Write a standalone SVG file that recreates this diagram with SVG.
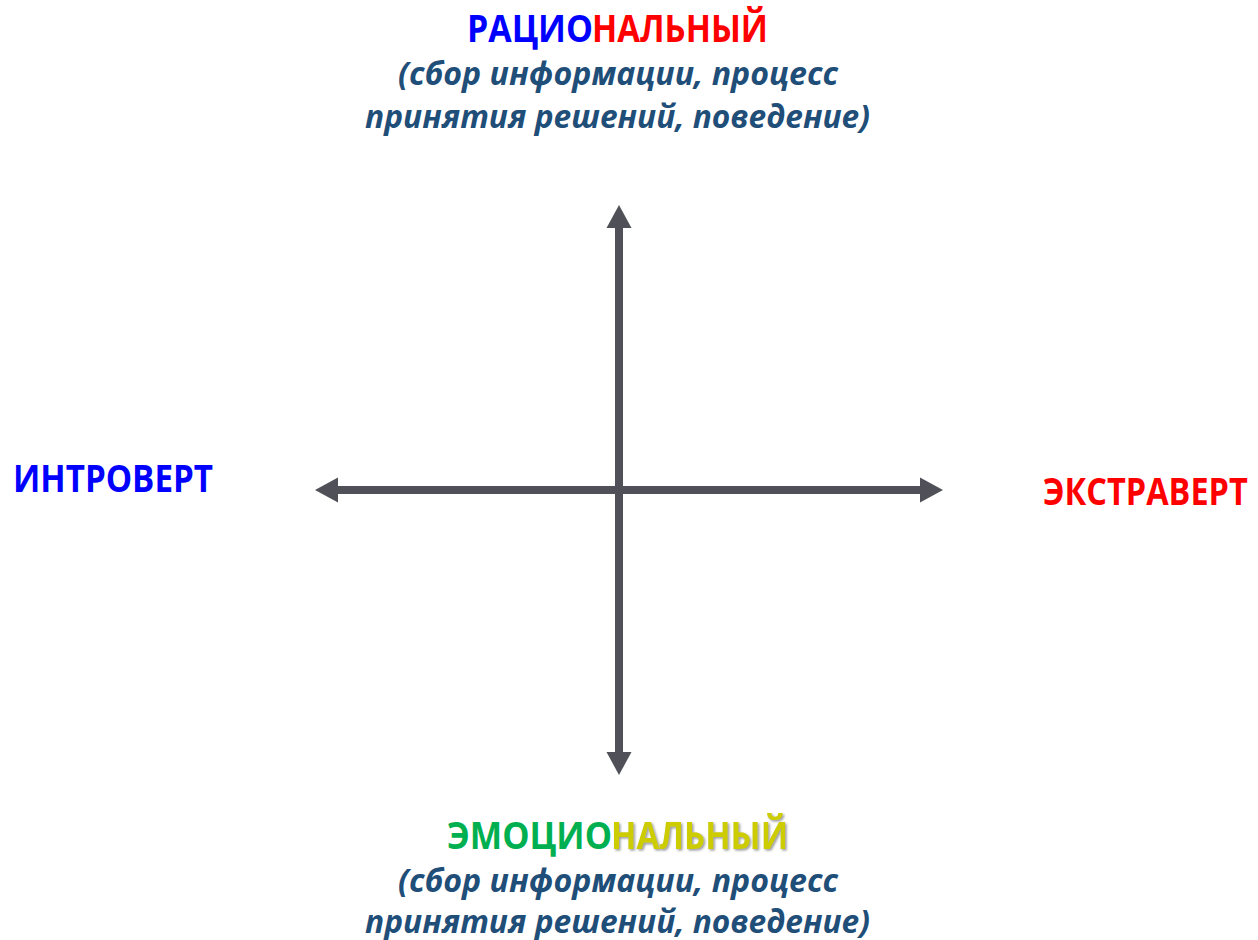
<svg xmlns="http://www.w3.org/2000/svg" width="1258" height="940" viewBox="0 0 1258 940">
<style>
.h{font-family:"Open Sans","Noto Sans","Liberation Sans",sans-serif;font-weight:bold;font-size:37px}
.s{font-family:"Open Sans","Noto Sans","Liberation Sans",sans-serif;font-weight:bold;font-style:italic;font-size:32px;fill:#1F4E79;text-anchor:middle}
.ax{stroke:#505058;stroke-width:8;fill:none;marker-start:url(#ah);marker-end:url(#ah)}
</style>
<defs>
<marker id="ah" markerUnits="userSpaceOnUse" markerWidth="24" markerHeight="26" refX="0" refY="12.5" orient="auto-start-reverse" viewBox="0 0 24 25">
<path d="M0,0 L23,12.5 L0,25 z" fill="#505058"/>
</marker>
<filter id="sh" x="-5%" y="-20%" width="115%" height="150%">
<feDropShadow dx="1.5" dy="1.5" stdDeviation="0.8" flood-color="#808080" flood-opacity="0.8"/>
</filter>
</defs>
<g id="connectors">
<line class="ax" x1="619" y1="752" x2="619" y2="228"/>
<line class="ax" x1="920" y1="490" x2="338" y2="490"/>
</g>
<g id="top">
<text class="h" x="467" y="42" fill="#0000FF" textLength="126" lengthAdjust="spacingAndGlyphs">РАЦИО</text>
<text class="h" x="592" y="42" fill="#FF0000" textLength="176" lengthAdjust="spacingAndGlyphs">НАЛЬНЫЙ</text>
<text class="s" x="618" y="85" textLength="440" lengthAdjust="spacingAndGlyphs">(сбор информации, процесс</text>
<text class="s" x="617.5" y="128" textLength="505" lengthAdjust="spacingAndGlyphs">принятия решений, поведение)</text>
</g>
<g id="left">
<text class="h" x="13" y="492" fill="#0000FF" textLength="200" lengthAdjust="spacingAndGlyphs">ИНТРОВЕРТ</text>
</g>
<g id="right">
<text class="h" x="0" y="0" transform="translate(1043,505) scale(0.8,1)" fill="#FF0000" textLength="256" lengthAdjust="spacingAndGlyphs">ЭКСТРАВЕРТ</text>
</g>
<g id="bottom">
<text class="h" x="447" y="849" fill="#00B050" textLength="165" lengthAdjust="spacingAndGlyphs">ЭМОЦИО</text>
<text class="h" x="611" y="849" fill="#CCCC00" filter="url(#sh)" textLength="177" lengthAdjust="spacingAndGlyphs">НАЛЬНЫЙ</text>
<text class="s" x="618" y="892" textLength="440" lengthAdjust="spacingAndGlyphs">(сбор информации, процесс</text>
<text class="s" x="617.5" y="933" textLength="505" lengthAdjust="spacingAndGlyphs">принятия решений, поведение)</text>
</g>
</svg>
